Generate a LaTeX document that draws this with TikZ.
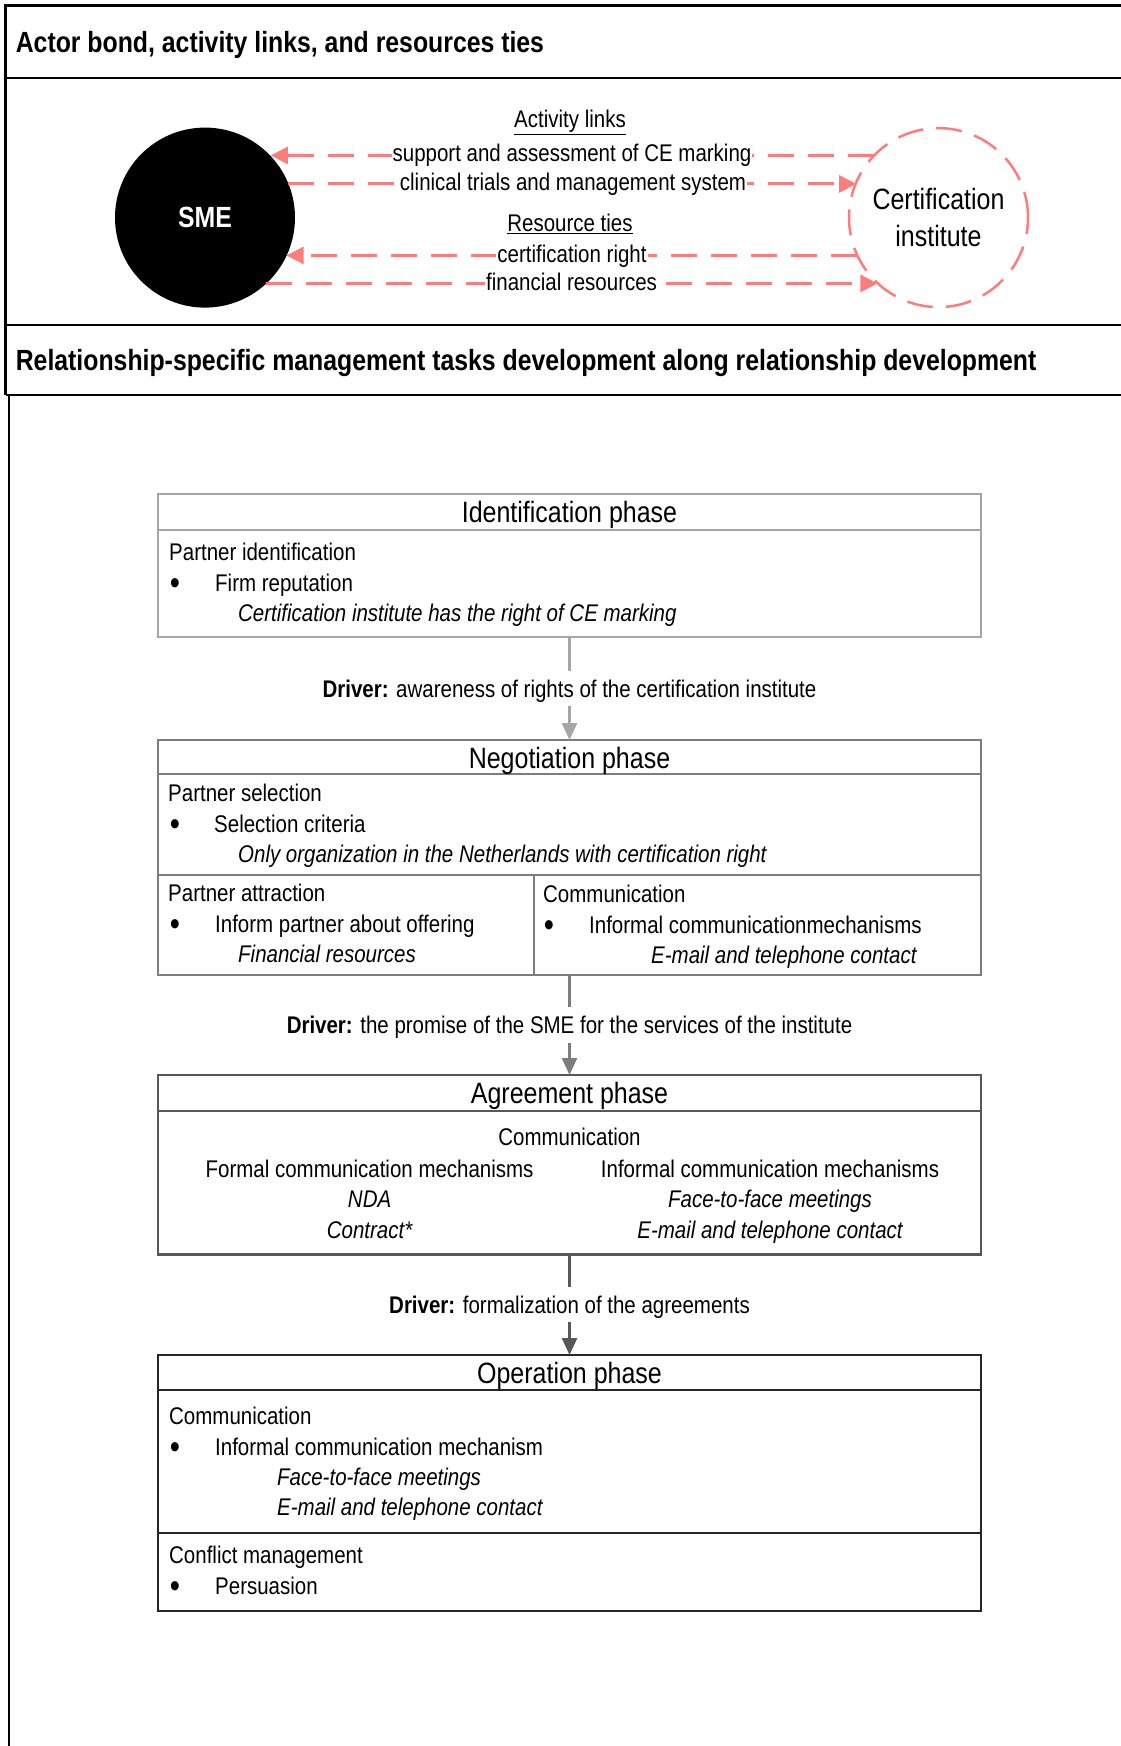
\documentclass[tikz,border=0pt]{standalone}
\usepackage{fontspec}
\setmainfont{Liberation Sans}[FakeStretch=0.85]
\usetikzlibrary{arrows.meta}

\definecolor{link}{RGB}{255,124,124}
\definecolor{phA}{RGB}{166,166,166}
\definecolor{phB}{RGB}{125,125,125}
\definecolor{phC}{RGB}{88,88,88}
\definecolor{phD}{RGB}{38,38,38}

\newcommand\bodyfont{\fontsize{24.1}{28}\selectfont}
\newcommand\titlefont{\fontsize{29.4}{37}\selectfont}
\newcommand\headfont{\fontsize{29.2}{34}\selectfont\bfseries}
\newcommand\bigbullet{{\fontsize{34}{34}\selectfont\textbullet}}

\begin{document}
\begin{tikzpicture}[x=1pt,y=-1pt,
  frame/.style={line width=2.5pt, black},
  heading/.style={anchor=west, inner sep=0pt, font=\headfont, text height=20.9pt, text depth=0pt},
  tl/.style={anchor=west, inner sep=0pt, font=\bodyfont, text height=17.3pt, text depth=0pt},
  tc/.style={anchor=center, inner sep=0pt, font=\bodyfont, text height=17.3pt, text depth=0pt},
  it/.style={tl, font=\bodyfont\itshape},
  itc/.style={tc, font=\bodyfont\itshape},
  bul/.style={anchor=center, inner sep=0pt, text height=24pt, text depth=0pt, yshift=1pt},
  ptitle/.style={anchor=center, inner sep=0pt, font=\titlefont, text height=21pt, text depth=0pt},
  linktext/.style={anchor=center, font=\bodyfont, fill=white, inner xsep=1pt, inner ysep=2pt, text height=17.3pt, text depth=4.5pt},
  linkarrow/.style={draw=link, line width=3pt, dash pattern=on 26pt off 14pt,
    -{Triangle[length=17pt,width=17pt]}},
  phasebox/.style={draw, fill=white, line width=2.5pt, minimum width=823pt, inner sep=0pt, outer sep=0pt},
  phasearrow/.style={line width=2.5pt, -{Triangle[length=17pt,width=15pt]}},
  driver/.style={anchor=center, font=\bodyfont, fill=white, inner xsep=3pt, inner ysep=9pt, text height=17.3pt, text depth=0pt},
]
\useasboundingbox (0,0) rectangle (1121,1746);

% ---------- outer frame and section bands ----------
\draw[frame] (1121,5.6) -- (5.6,5.6) -- (5.6,395);
\draw[frame] (5.6,78) -- (1121,78);
\draw[frame] (5.6,325) -- (1121,325);
\draw[frame] (5.6,395) -- (1121,395);
\draw[frame] (9,395) -- (9,1746);

\node[heading] (h1) at (15.6,42) {Actor bond, activity links, and resources ties};
\node[heading] (h2) at (15.6,359.6) {Relationship-specific management tasks development along relationship development};

% ---------- actors ----------
\node[circle, fill=black, minimum size=180pt, inner sep=0pt, outer sep=0pt,
      text=white, font=\headfont] (sme) at (205,217.6) {SME};
\node[circle, draw=link, line width=2.5pt, dash pattern=on 26pt off 13pt,
      minimum size=179pt, inner sep=0pt, outer sep=0pt, align=center,
      font=\titlefont] (cert) at (938.5,217.6) {Certification\\institute};

% ---------- activity links and resource ties ----------
\draw[linkarrow] (cert.136.5) -- (sme.43.5 |- cert.136.5);
\draw[linkarrow] (sme.22.2) -- (cert.157.8 |- sme.22.2);
\draw[linkarrow] (cert.205.3) -- (sme.-25.3 |- cert.205.3);
\draw[linkarrow] (sme.-47.4) -- (cert.227.4 |- sme.-47.4);

\node[tc] (actlinks) at (570,119) {\underline{Activity links}};
\node[linktext] (l1) at (572,155) {support and assessment of CE marking};
\node[linktext] (l2) at (573,184) {clinical trials and management system};
\node[tc] (restie) at (570,222.6) {\underline{Resource ties}};
\node[linktext] (l3) at (572,256) {certification right};
\node[linktext] (l4) at (571.6,284) {financial resources};

% ---------- phase boxes ----------
\node[phasebox, draw=phA, minimum height=143pt] (ident) at (569.5,565.5) {};
\node[phasebox, draw=phB, minimum height=235pt] (nego)  at (569.5,857.5) {};
\node[phasebox, draw=phC, minimum height=179.5pt] (agree) at (569.5,1164.75) {};
\node[phasebox, draw=phD, minimum height=256pt] (oper)  at (569.5,1483) {};

% dividers inside the boxes
\draw[phA, line width=2.5pt] (ident.west |- 0,530) -- (ident.east |- 0,530);
\draw[phB, line width=2.5pt] (nego.west |- 0,774) -- (nego.east |- 0,774);
\draw[phB, line width=2.5pt] (nego.west |- 0,875) -- (nego.east |- 0,875);
\draw[phB, line width=2.5pt] (534,875) -- (534 ,975);
\draw[phC, line width=2.5pt] (agree.west |- 0,1111) -- (agree.east |- 0,1111);
\draw[phD, line width=2.5pt] (oper.west |- 0,1390) -- (oper.east |- 0,1390);
\draw[phD, line width=2.5pt] (oper.west |- 0,1533) -- (oper.east |- 0,1533);

% ---------- transitions ----------
\draw[phasearrow, draw=phA, fill=phA] (ident.south) -- (nego.north)
  node[driver, midway] (d1) {\textbf{Driver:} awareness of rights of the certification institute};
\draw[phasearrow, draw=phB, fill=phB] (nego.south) -- (agree.north)
  node[driver, midway] (d2) {\textbf{Driver:} the promise of the SME for the services of the institute};
\draw[phasearrow, draw=phC, fill=phC] (agree.south) -- (oper.north)
  node[driver, midway] (d3) {\textbf{Driver:} formalization of the agreements};

% ---------- identification phase ----------
\node[ptitle] (t1) at (569.5,512) {Identification phase};
\node[tl] (i1) at (169,552) {Partner identification};
\node[bul] (ib1) at (175,583) {\bigbullet};
\node[tl] (i2) at (215,583) {Firm reputation};
\node[it] (i3) at (238,613) {Certification institute has the right of CE marking};

% ---------- negotiation phase ----------
\node[ptitle] (t2) at (569.5,758) {Negotiation phase};
\node[tl] (n1) at (168,793) {Partner selection};
\node[bul] (nb1) at (175,824) {\bigbullet};
\node[tl] (n2) at (214,824) {Selection criteria};
\node[it] (n3) at (238,854) {Only organization in the Netherlands with certification right};
\node[tl] (n4) at (168,893) {Partner attraction};
\node[bul] (nb2) at (175,924) {\bigbullet};
\node[tl] (n5) at (215,924) {Inform partner about offering};
\node[it] (n6) at (238,954) {Financial resources};
\node[tl] (n7) at (543,894) {Communication};
\node[bul] (nb3) at (549,925) {\bigbullet};
\node[tl] (n8) at (589,925) {Informal communicationmechanisms};
\node[it] (n9) at (651,955) {E-mail and telephone contact};

% ---------- agreement phase ----------
\node[ptitle] (t3) at (569.5,1093) {Agreement phase};
\node[tc] (a1) at (569.5,1137) {Communication};
\node[tc] (a2) at (369.6,1169) {Formal communication mechanisms};
\node[itc] (a3) at (369.6,1199) {NDA};
\node[itc] (a4) at (369.6,1230) {Contract*};
\node[tc] (a5) at (770,1169) {Informal communication mechanisms};
\node[itc] (a6) at (770,1199) {Face-to-face meetings};
\node[itc] (a7) at (770,1230) {E-mail and telephone contact};

% ---------- operation phase ----------
\node[ptitle] (t4) at (569.5,1373) {Operation phase};
\node[tl] (o1) at (169,1416) {Communication};
\node[bul] (ob1) at (175,1447) {\bigbullet};
\node[tl] (o2) at (215,1447) {Informal communication mechanism};
\node[it] (o3) at (277,1477) {Face-to-face meetings};
\node[it] (o4) at (277,1507) {E-mail and telephone contact};
\node[tl] (o5) at (169,1555) {Conflict management};
\node[bul] (ob2) at (175,1586) {\bigbullet};
\node[tl] (o6) at (215,1586) {Persuasion};
\end{tikzpicture}
\end{document}
